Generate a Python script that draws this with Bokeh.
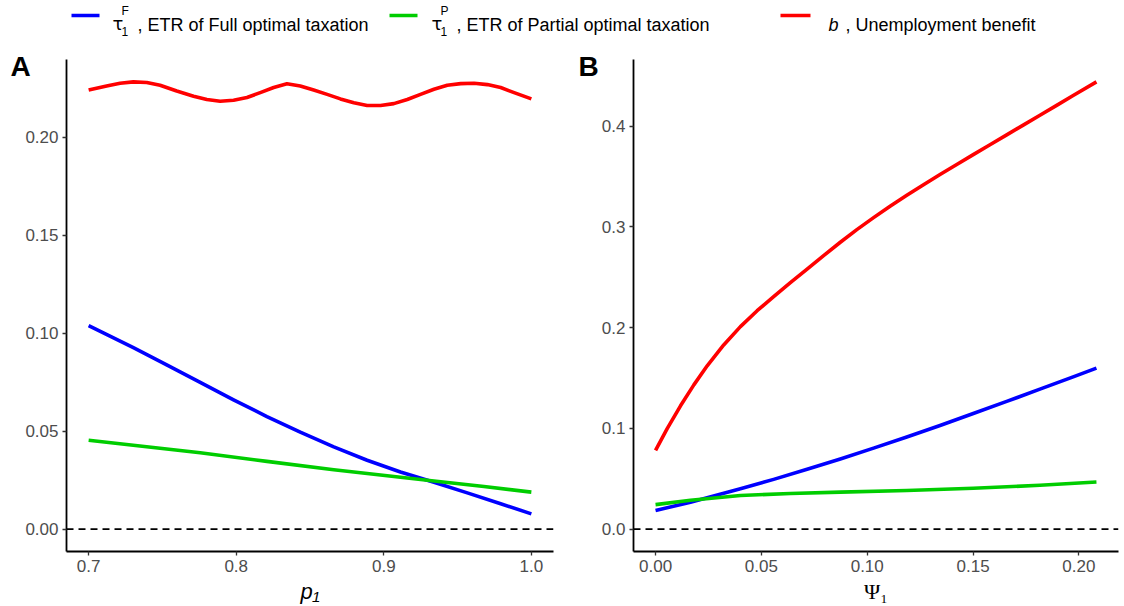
from bokeh.plotting import figure
from bokeh.layouts import column, row
from bokeh.models import Range1d, Span, FixedTicker, NumeralTickFormatter, Title
from bokeh.core.properties import value
from bokeh.embed import file_html
from bokeh.resources import INLINE

# ---------------- data ----------------
# Panel A: x = p1
pA_b = [0.700, 0.7122, 0.7213, 0.7303, 0.7394, 0.7484, 0.7597, 0.7711, 0.7801, 0.7891, 0.7982,
        0.8073, 0.8163, 0.8254, 0.8344, 0.8434, 0.8525, 0.8616, 0.8706, 0.8797, 0.8887, 0.8978,
        0.9068, 0.9159, 0.9249, 0.9340, 0.9430, 0.9521, 0.9612, 0.9702, 0.9792, 0.9883, 1.000]
bA = [0.2242, 0.2263, 0.2277, 0.2284, 0.2281, 0.2267, 0.2237, 0.2211, 0.2194, 0.2185, 0.2190,
      0.2204, 0.2229, 0.2255, 0.2274, 0.2263, 0.2242, 0.2220, 0.2197, 0.2177, 0.2163, 0.2163,
      0.2173, 0.2194, 0.2220, 0.2246, 0.2267, 0.2275, 0.2277, 0.2270, 0.2255, 0.2229, 0.2197]
pA_f = [0.700, 0.7303, 0.7529, 0.7756, 0.7982, 0.8208, 0.8434, 0.8661, 0.8887, 0.9113, 0.9340,
        0.9566, 0.9792, 1.000]
tauF_A = [0.1039, 0.0927, 0.0839, 0.0749, 0.0660, 0.0575, 0.0495, 0.0420, 0.0352, 0.0292, 0.0239,
          0.0185, 0.0130, 0.0078]
pA_p = [0.700, 0.7756, 0.8208, 0.8661, 0.9340, 0.9679, 1.000]
tauP_A = [0.0454, 0.0390, 0.0346, 0.0303, 0.0246, 0.0218, 0.0189]

# Panel B: x = Psi1
psiB_b = [0.000, 0.0055, 0.0118, 0.0181, 0.0244, 0.0322, 0.0401, 0.0480, 0.0558, 0.0637, 0.0716,
          0.0794, 0.0873, 0.0951, 0.1030, 0.1108, 0.1187, 0.1266, 0.1344, 0.1423, 0.1501, 0.1580,
          0.1659, 0.1737, 0.1816, 0.1895, 0.1973, 0.2083]
bB = [0.0782, 0.0997, 0.1224, 0.1432, 0.1621, 0.1828, 0.2010, 0.2168, 0.2308, 0.2446, 0.2582,
      0.2715, 0.2848, 0.2973, 0.3092, 0.3205, 0.3314, 0.3419, 0.3520, 0.3620, 0.3718, 0.3816,
      0.3914, 0.4011, 0.4109, 0.4207, 0.4304, 0.4440]
psiB_f = [0.000, 0.0165, 0.0401, 0.0558, 0.0716, 0.0873, 0.1030, 0.1187, 0.1344, 0.1501, 0.1659,
          0.1816, 0.1973, 0.2083]
tauF_B = [0.0185, 0.0268, 0.0400, 0.0494, 0.0594, 0.0697, 0.0804, 0.0914, 0.1029, 0.1148, 0.1268,
          0.1390, 0.1512, 0.1598]
psiB_p = [0.000, 0.0165, 0.0401, 0.0637, 0.0873, 0.1187, 0.1501, 0.1816, 0.2083]
tauP_B = [0.0243, 0.0286, 0.0334, 0.0354, 0.0367, 0.0383, 0.0406, 0.0435, 0.0468]

ticksA_x = [0.7, 0.8, 0.9, 1.0]
ticksA_y = [0.0, 0.05, 0.10, 0.15, 0.20]
ticksB_x = [0.0, 0.05, 0.10, 0.15, 0.20]
ticksB_y = [0.0, 0.1, 0.2, 0.3, 0.4]

legend_labels = [", ETR of Full optimal taxation", ", ETR of Partial optimal taxation", ", Unemployment benefit"]
legend_sup = ["F", "P", ""]
colors = ["#0000FF", "#00CD00", "#FF0000"]

FONT = "Liberation Sans"
LW = 3.6
PLOT_H = 558


def padded(lo, hi, f=0.05):
    s = hi - lo
    return Range1d(lo - f * s, hi + f * s)


def make_panel(xs_list, ys_list, xticks, yticks, xfmt, yfmt, xlabel, xlabel_font, xlabel_style,
               letter, letter_offset, width, bl, br):
    allx = [v for xs in xs_list for v in xs]
    ally = [v for ys in ys_list for v in ys] + [0.0]
    xr = padded(min(allx), max(allx))
    yr = padded(min(ally), max(ally))
    p = figure(width=width, height=PLOT_H, output_backend="svg", toolbar_location=None,
               x_range=xr, y_range=yr,
               min_border_left=bl, min_border_right=br, min_border_top=11, min_border_bottom=10)
    p.outline_line_color = None
    p.xgrid.visible = False
    p.ygrid.visible = False
    p.add_layout(Span(location=0, dimension="width", line_color="black", line_width=1.6,
                      line_dash="7 5"))
    for xs, ys, c in zip(xs_list, ys_list, [colors[2], colors[0], colors[1]]):
        p.line(xs, ys, line_color=c, line_width=LW, line_join="round")
    for ax, t, fmt in ((p.xaxis[0], xticks, xfmt), (p.yaxis[0], yticks, yfmt)):
        ax.ticker = FixedTicker(ticks=t)
        ax.formatter = NumeralTickFormatter(format=fmt)
        ax.axis_line_color = "black"
        ax.axis_line_width = 1.8
        ax.major_tick_line_color = "#333333"
        ax.major_tick_line_width = 1.3
        ax.major_tick_in = 0
        ax.major_tick_out = 4
        ax.minor_tick_line_color = None
        ax.major_label_text_font = FONT
        ax.major_label_text_font_size = "17px"
        ax.major_label_text_color = "#4D4D4D"
        ax.major_label_standoff = 4
    p.xaxis.axis_label = xlabel
    p.xaxis.axis_label_text_font = xlabel_font
    p.xaxis.axis_label_text_font_style = xlabel_style
    p.xaxis.axis_label_text_font_size = "22px"
    p.xaxis.axis_label_text_color = "black"
    p.xaxis.axis_label_standoff = 4
    t = Title(text=letter, align="left", vertical_align="bottom", offset=letter_offset, standoff=-44,
              text_font=FONT, text_font_style="bold", text_font_size="28px", text_color="black")
    p.add_layout(t, "above")
    return p


pA = make_panel([pA_b, pA_f, pA_p], [bA, tauF_A, tauP_A], ticksA_x, ticksA_y, "0.0", "0.00",
                "p\u2081", FONT, "italic", "A", -56, 573, 66, 20)
pB = make_panel([psiB_b, psiB_f, psiB_p], [bB, tauF_B, tauP_B], ticksB_x, ticksB_y, "0.00", "0.0",
                "\u03a8\u2081", "Liberation Serif", "normal", "B", -55, 551, 60, 6)

# ---------------- legend strip ----------------
leg = figure(width=1124, height=48, output_backend="svg", toolbar_location=None,
             x_range=Range1d(0, 1124), y_range=Range1d(48, 0),
             min_border=0, min_border_left=0, min_border_right=0, min_border_top=0, min_border_bottom=0)
leg.axis.visible = False
leg.grid.visible = False
leg.outline_line_color = None

seg_x0 = [71, 389, 780]
seg_w = [28, 28, 30]
tau_x = [112, 431, 0]
lab_x = [137, 456, 845]
for i in range(3):
    leg.segment(x0=[seg_x0[i]], y0=[15], x1=[seg_x0[i] + seg_w[i]], y1=[15], line_color=colors[i], line_width=LW)
    if legend_sup[i]:
        leg.text(x=[tau_x[i]], y=[23], text=["\u03c4"], text_font=value("DejaVu Sans"), text_font_size="18px",
                 text_baseline="alphabetic", text_align="left", text_color="black")
        leg.text(x=[tau_x[i] + 9], y=[10], text=[legend_sup[i]], text_font=value(FONT), text_font_size="12px",
                 text_baseline="alphabetic", text_align="left", text_color="black")
        leg.text(x=[tau_x[i] + 9], y=[31], text=["1"], text_font=value(FONT), text_font_size="12px",
                 text_baseline="alphabetic", text_align="left", text_color="black")
    else:
        leg.text(x=[lab_x[i] - 17], y=[24], text=["b"], text_font=value(FONT), text_font_style="italic",
                 text_font_size="18px", text_baseline="alphabetic", text_align="left", text_color="black")
    leg.text(x=[lab_x[i]], y=[24], text=[legend_labels[i]], text_font=value(FONT), text_font_size="18px",
             text_baseline="alphabetic", text_align="left", text_color="black")

layout = column(leg, row(pA, pB, spacing=0), spacing=0)
open("out.html", "w").write(file_html(layout, INLINE))
